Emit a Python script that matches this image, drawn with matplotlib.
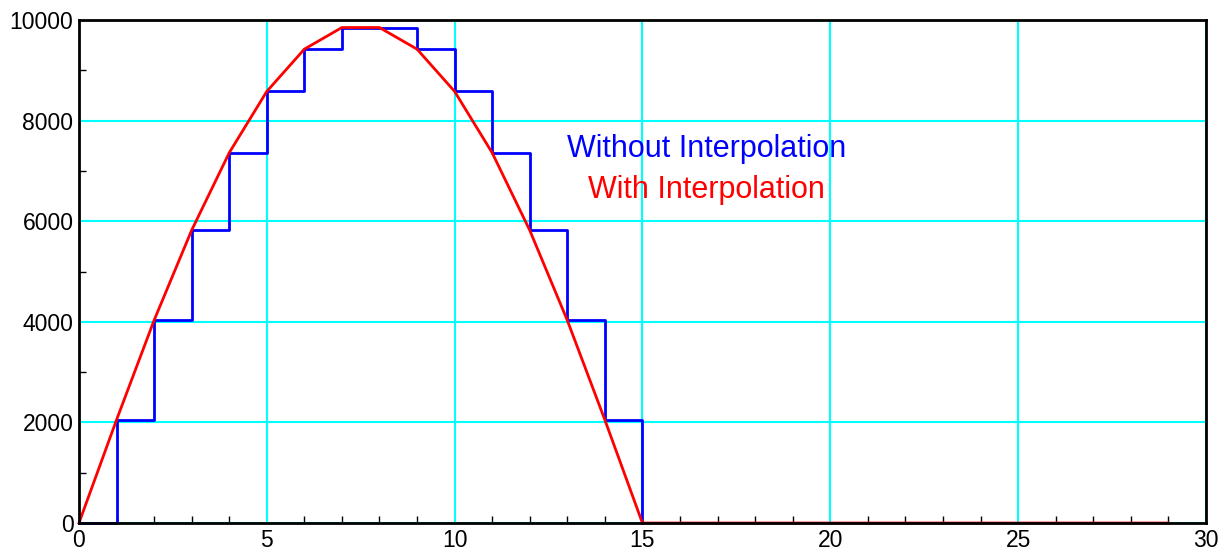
import matplotlib
matplotlib.use("Agg")
import matplotlib.pyplot as plt
from matplotlib.ticker import MultipleLocator

plt.rcParams['font.family'] = ['Liberation Sans', 'DejaVu Sans']

# sample index and value
x = list(range(30))
values = [0, 2050, 4030, 5820, 7360, 8580, 9420, 9850, 9850, 9420,
          8580, 7360, 5820, 4030, 2050, 0, 0, 0, 0, 0,
          0, 0, 0, 0, 0, 0, 0, 0, 0, 0]

x_ticks = [0, 5, 10, 15, 20, 25, 30]
y_ticks = [0, 2000, 4000, 6000, 8000, 10000]

fig = plt.figure(figsize=(12.28, 5.52), dpi=100)
ax = fig.add_axes([0.0643, 0.0525, 0.9177, 0.9113])

# step version stops once the signal drops back to zero
ax.step(x[:16], values[:16], where='post', color='#0000ff', lw=2, zorder=3, clip_on=False)
ax.plot(x, values, color='#ff0000', lw=2, zorder=4, clip_on=False)

ax.text(16.7, 7430, "Without Interpolation", color='#0000ff', fontsize=22,
        ha='center', va='center')
ax.text(16.7, 6620, "With Interpolation", color='#ff0000', fontsize=22,
        ha='center', va='center')

ax.set_xlim(0, 30)
ax.set_ylim(0, 10000)
ax.set_xticks(x_ticks)
ax.set_yticks(y_ticks)
ax.xaxis.set_minor_locator(MultipleLocator(1))
ax.yaxis.set_minor_locator(MultipleLocator(1000))
ax.grid(True, which='major', color='#00ffff', lw=1.5)
ax.set_axisbelow(True)
ax.tick_params(which='both', direction='in', top=False, right=False, labelsize=16.5, pad=4)
ax.tick_params(which='major', length=0)
ax.tick_params(which='minor', length=5, width=1)
for s in ax.spines.values():
    s.set_linewidth(2)
    s.set_zorder(5)

fig.savefig("out.png", dpi=100)
